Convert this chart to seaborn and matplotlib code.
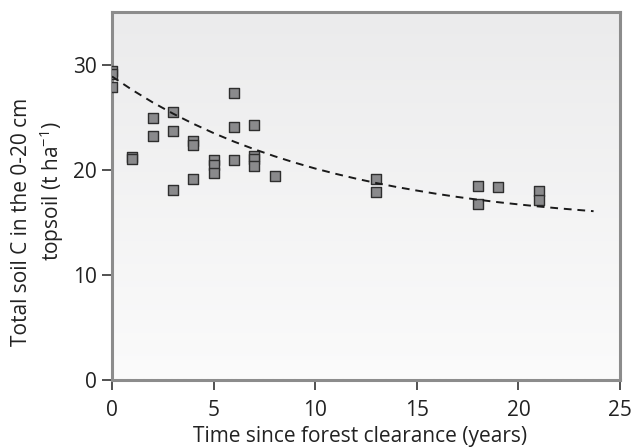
import numpy as np
import matplotlib
matplotlib.use("Agg")
import matplotlib.pyplot as plt
import seaborn as sns
import pandas as pd
from matplotlib.colors import LinearSegmentedColormap

# Observed data (years since clearance, total soil C t/ha)
years = [0, 0, 0, 1, 1, 2, 2, 3, 3, 3, 4, 4, 4, 5, 5, 5, 6, 6, 6,
         7, 7, 7, 7, 8, 13, 13, 18, 18, 19, 21, 21]
soil_c = [29.4, 29.1, 27.9, 21.2, 21.0, 24.9, 23.2, 25.5, 23.7, 18.1,
          22.7, 22.4, 19.15, 20.9, 20.5, 19.7, 27.3, 24.05, 20.96,
          24.3, 21.35, 21.0, 20.4, 19.4, 19.1, 17.85, 18.5, 16.7,
          18.35, 18.0, 17.15]

# Fitted trend line
fit_x = [0, 1, 2, 3, 4, 5, 6, 7, 8, 9, 10, 11, 12, 13, 14, 15, 16,
         17, 18, 19, 20, 21, 22, 23, 23.7]
fit_y = [28.9, 27.61, 26.43, 25.36, 24.39, 23.5, 22.69, 21.96, 21.29,
         20.68, 20.12, 19.62, 19.16, 18.74, 18.36, 18.02, 17.70, 17.41,
         17.15, 16.91, 16.70, 16.50, 16.32, 16.16, 16.05]

x_ticks = [0, 5, 10, 15, 20, 25]
y_ticks = [0, 10, 20, 30]

sns.set_theme(style="ticks")
plt.rcParams['font.family'] = ['Open Sans', 'DejaVu Sans']
plt.rcParams['mathtext.fontset'] = 'custom'
plt.rcParams['mathtext.rm'] = 'Open Sans'
plt.rcParams['mathtext.it'] = 'Open Sans'

TXT = "#222222"
FS = 15

fig = plt.figure(figsize=(6.36, 4.48), dpi=100)
ax = fig.add_axes([112/636, 1-379.5/448, (620-112)/636, (379.5-12.5)/448])

# gradient background
grad = np.linspace(0, 1, 256).reshape(-1, 1)
cmap = LinearSegmentedColormap.from_list("bg", ["#fbfbfb", "#ebebec"])
ax.imshow(grad, extent=[0, 25, 0, 35], origin="lower", cmap=cmap,
          aspect="auto", zorder=0)

df = pd.DataFrame({"x": years, "y": soil_c})
sns.scatterplot(data=df, x="x", y="y", marker="s", s=62, color="#8a8a8c",
                edgecolor="#2e2e2e", linewidth=1.0, ax=ax, zorder=3)
fit = pd.DataFrame({"x": fit_x, "y": fit_y})
sns.lineplot(data=fit, x="x", y="y", ax=ax, color="#1a1a1a",
             linestyle=(0, (4, 3)), linewidth=1.4, zorder=4)

ax.set_xlim(0, 25)
ax.set_ylim(0, 35)
ax.set_xticks(x_ticks)
ax.set_yticks(y_ticks)
for s in ["top", "right", "left", "bottom"]:
    ax.spines[s].set_color("#8c8c8c")
    ax.spines[s].set_linewidth(2.2)
ax.tick_params(axis="both", direction="out", length=7, width=1.1,
               color=TXT, labelsize=FS, labelcolor=TXT)
ax.tick_params(axis="x", pad=8)
ax.tick_params(axis="y", pad=4)

ax.set_xlabel("")
ax.set_ylabel("")
fig.text(360/636, 1-442/448, "Time since forest clearance (years)",
         ha="center", va="baseline", fontsize=FS, color=TXT)
fig.text(22/636, 1-222/448, "Total soil C in the 0-20 cm", rotation=90,
         ha="center", va="center", fontsize=FS, color=TXT)
fig.text(52/636, 1-191/448, "topsoil (t ha$^{-1}$)", rotation=90,
         ha="center", va="center", fontsize=FS, color=TXT)

fig.savefig("out.png", dpi=100)
